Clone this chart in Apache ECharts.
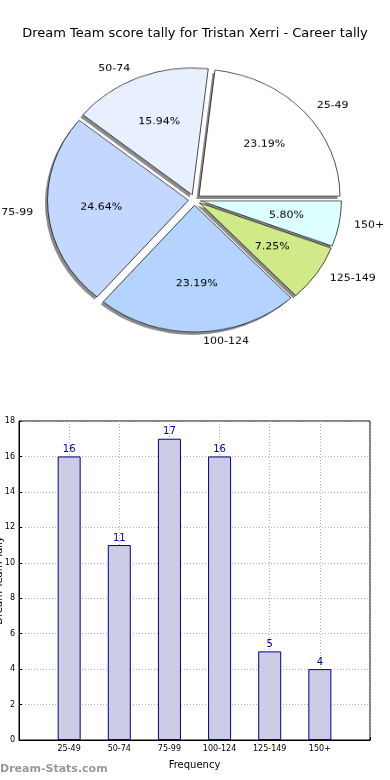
<!DOCTYPE html>
<html>
<head>
<meta charset="utf-8">
<script src="https://cdn.jsdelivr.net/npm/echarts@6/dist/echarts.min.js"></script>
<style>
html,body{margin:0;padding:0;background:#fff;}
#main{position:absolute;left:0;top:0;width:390px;height:780px;}
#pie{position:absolute;left:0;top:0;width:390px;height:444px;transform:scaleY(0.9);transform-origin:0 0;pointer-events:none;}
</style>
</head>
<body>
<div id="main"></div>
<div id="pie"></div>
<script>
const titleText = 'Dream Team score tally for Tristan Xerri - Career tally';
const categories = ['25-49', '50-74', '75-99', '100-124', '125-149', '150+'];
const tallies = [16, 11, 17, 16, 5, 4];
const sliceColors = ['#ffffff', '#e8f0ff', '#c4d8ff', '#b4d4ff', '#d0ea8a', '#dcffff'];
const yTicks = [0, 2, 4, 6, 8, 10, 12, 14, 16, 18];
const xAxisName = 'Frequency';
const yAxisName = 'Dream Team Tally';
const watermark = 'Dream-Stats.com';

const FONT = 'DejaVu Sans';
const total = tallies.reduce((a, b) => a + b, 0);

// ---- Bar chart + title ----
const main = echarts.init(document.getElementById('main'), null, {renderer: 'canvas'});
main.setOption({
  animation: false,
  backgroundColor: '#fff',
  title: {
    text: titleText, left: 'center', top: 22,
    textStyle: {fontFamily: FONT, fontSize: 13, fontWeight: 'normal', color: '#000'}
  },
  grid: {left: 19, right: 20, top: 421, bottom: 40, containLabel: false, outerBoundsMode: 'none',
    show: true, borderColor: '#000', borderWidth: 1, backgroundColor: 'transparent'},
  xAxis: {
    type: 'value', min: -1, max: 6, interval: 1,
    name: xAxisName, nameLocation: 'middle', nameGap: 20, nameMoveOverlap: false,
    nameTextStyle: {fontFamily: FONT, fontSize: 10, color: '#000'},
    axisLine: {show: true, onZero: false, lineStyle: {color: '#000'}},
    axisTick: {show: true, inside: true, length: 3, lineStyle: {color: '#000'}},
    axisLabel: {fontFamily: FONT, fontSize: 8, color: '#000', margin: 5, showMinLabel: true, showMaxLabel: true,
      formatter: v => (categories[v] !== undefined ? categories[v] : '')},
    splitLine: {show: true, lineStyle: {color: '#b0b0b0', type: [1, 2], width: 1}}
  },
  yAxis: {
    type: 'value', min: yTicks[0], max: yTicks[yTicks.length - 1], interval: 2,
    name: yAxisName, nameLocation: 'middle', nameGap: 15, nameRotate: 90, nameMoveOverlap: false,
    nameTextStyle: {fontFamily: FONT, fontSize: 10, color: '#000'},
    axisLine: {show: true, onZero: false, lineStyle: {color: '#000'}},
    axisTick: {show: true, inside: true, length: 3, lineStyle: {color: '#000'}},
    axisLabel: {fontFamily: FONT, fontSize: 8, color: '#000', margin: 4},
    splitLine: {show: true, lineStyle: {color: '#b0b0b0', type: [1, 2], width: 1}}
  },
  series: [{
    type: 'bar',
    data: tallies.map((v, i) => [i, v]),
    barWidth: 23,
    itemStyle: {color: '#cccce6', borderColor: '#00008b', borderWidth: 1},
    label: {show: true, position: 'top', distance: 2, fontFamily: FONT, fontSize: 10, color: '#0000aa',
      formatter: p => String(p.value[1])},
    z: 1
  }],
  graphic: [{
    type: 'text', left: 0, top: 764,
    style: {text: watermark, fontFamily: FONT, fontSize: 11, fontWeight: 'bold', fill: '#999'}
  }]
});

// ---- Pie (container scaled vertically to reproduce the elliptical pie) ----
const pie = echarts.init(document.getElementById('pie'), null, {renderer: 'canvas'});
const R = 141;
const CX = 194.5, CY = 222;
const common = {
  type: 'pie', startAngle: 0, clockwise: false,
  selectedMode: 'multiple', selectedOffset: 6,
  avoidLabelOverlap: false, silent: true
};
pie.setOption({
  animation: false,
  series: [
    Object.assign({}, common, {
      // shadow layer
      center: [CX - 2.5, CY + 3], radius: [0, R], z: 1,
      itemStyle: {color: '#8c8c8c', borderWidth: 0},
      label: {show: false}, labelLine: {show: false},
      data: categories.map((c, i) => ({name: c, value: tallies[i], selected: true}))
    }),
    Object.assign({}, common, {
      center: [CX, CY], radius: [0, R], z: 2,
      itemStyle: {borderColor: '#000', borderWidth: 0.7},
      label: {show: true, position: 'outside', fontFamily: FONT, fontSize: 11, color: '#000', formatter: '{b}'},
      labelLine: {show: false, length: 10, length2: 0},
      data: categories.map((c, i) => ({name: c, value: tallies[i], selected: true, itemStyle: {color: sliceColors[i]}}))
    }),
    Object.assign({}, common, {
      center: [CX, CY], radius: [0, R * 1.2], z: 3,
      itemStyle: {color: 'rgba(0,0,0,0)', borderWidth: 0},
      label: {show: true, position: 'inner', fontFamily: FONT, fontSize: 11, color: '#000',
        formatter: p => (p.value / total * 100).toFixed(2) + '%'},
      labelLine: {show: false},
      data: categories.map((c, i) => ({name: c, value: tallies[i], selected: true}))
    })
  ]
});
</script>
</body>
</html>
